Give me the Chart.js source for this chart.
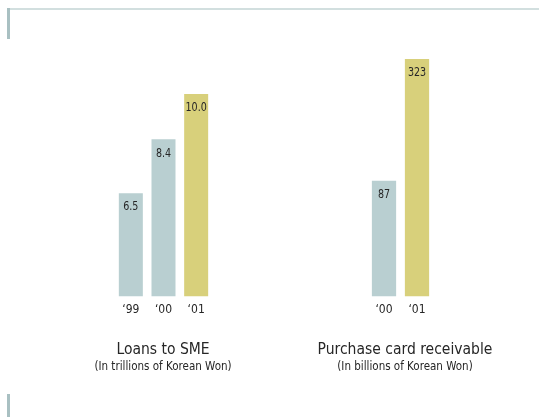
<!DOCTYPE html>
<html>
<head>
<meta charset="utf-8">
<script src="https://cdn.jsdelivr.net/npm/chart.js@4"></script>
<style>
  body { margin: 0; background: #fff; }
  #page { position: relative; width: 539px; height: 417px; overflow: hidden; }
  .rule { position: absolute; }
  canvas { position: absolute; top: 0; }
</style>
</head>
<body>
<div id="page">
  <div class="rule" style="left:7px;top:8px;width:532px;height:2px;background:#d2dfdf"></div>
  <div class="rule" style="left:7px;top:8px;width:3px;height:31px;background:#a9c0c2"></div>
  <div class="rule" style="left:7px;top:394px;width:3px;height:23px;background:#a9c0c2"></div>
  <canvas id="sme-chart" width="158" height="373" style="left:84px"></canvas>
  <canvas id="card-chart" width="180" height="373" style="left:315px"></canvas>
</div>
<script>
const smeYears = ['\u201899', '\u201800', '\u201801'];
const smeLoans = [6.5, 8.4, 10.0];
const cardYears = ['\u201800', '\u201801'];
const cardReceivable = [87, 323];

const narrow = "'Liberation Sans Narrow', 'DejaVu Sans Condensed', 'Arial Narrow', sans-serif";
const pastColor = '#b9cfd1';
const currentColor = '#d8d07b';
const textColor = '#262626';

// prints each bar's value just inside its top edge, squeezed a little
const valueLabels = {
    id: 'valueLabels',
    afterDatasetsDraw(chart, args, opts) {
        const ctx = chart.ctx;
        const meta = chart.getDatasetMeta(0);
        const values = chart.data.datasets[0].data;
        const squeeze = 0.85;
        ctx.save();
        ctx.font = '12.5px ' + narrow;
        ctx.fillStyle = textColor;
        ctx.textAlign = 'center';
        ctx.textBaseline = 'middle';
        meta.data.forEach((bar, i) => {
            ctx.save();
            ctx.translate(bar.x, bar.y + 14);
            ctx.scale(squeeze, 1);
            ctx.fillText(values[i].toFixed(opts.decimals), 0, 0);
            ctx.restore();
        });
        ctx.restore();
    }
};

function barChart(canvasId, labels, values, axisMin, axisMax, sideLeft, sideRight, title, subtitle, decimals) {
    return new Chart(document.getElementById(canvasId), {
        type: 'bar',
        data: {
            labels: labels,
            datasets: [{
                data: values,
                base: axisMin,
                backgroundColor: labels.map((l, i) => i === labels.length - 1 ? currentColor : pastColor),
                categoryPercentage: 1,
                barPercentage: 0.735
            }]
        },
        options: {
            responsive: false,
            animation: false,
            layout: { padding: { top: 59 } },
            scales: {
                x: {
                    grid: { display: false, drawTicks: false },
                    border: { display: false },
                    ticks: { color: textColor, padding: 6, font: { family: narrow, size: 12 } }
                },
                y: {
                    min: axisMin,
                    max: axisMax,
                    grid: { display: false, drawTicks: false },
                    border: { display: false },
                    ticks: { display: false },
                    afterFit(scale) { scale.width = sideLeft; }
                },
                side: {
                    type: 'linear',
                    position: 'right',
                    grid: { display: false, drawTicks: false },
                    border: { display: false },
                    ticks: { display: false },
                    afterFit(scale) { scale.width = sideRight; }
                }
            },
            plugins: {
                legend: { display: false },
                tooltip: { enabled: false },
                title: {
                    display: true,
                    text: title,
                    position: 'bottom',
                    weight: 1000,
                    color: textColor,
                    font: { family: narrow, size: 15.5, weight: 'normal', lineHeight: 1 },
                    padding: { top: 19.65, bottom: 0 }
                },
                subtitle: {
                    display: true,
                    text: subtitle,
                    position: 'bottom',
                    weight: 1200,
                    color: textColor,
                    font: { family: narrow, size: 11.5, lineHeight: 1 },
                    padding: { top: 3.5, bottom: 0 }
                },
                valueLabels: { decimals: decimals }
            }
        },
        plugins: [valueLabels]
    });
}

barChart('sme-chart', smeYears, smeLoans, 2.86, 11.23, 30.5, 29.5,
    'Loans to SME', '(In trillions of Korean Won)', 1);
barChart('card-chart', cardYears, cardReceivable, -137, 323, 52.5, 61.5,
    'Purchase card receivable', '(In billions of Korean Won)', 0);
</script>
</body>
</html>
